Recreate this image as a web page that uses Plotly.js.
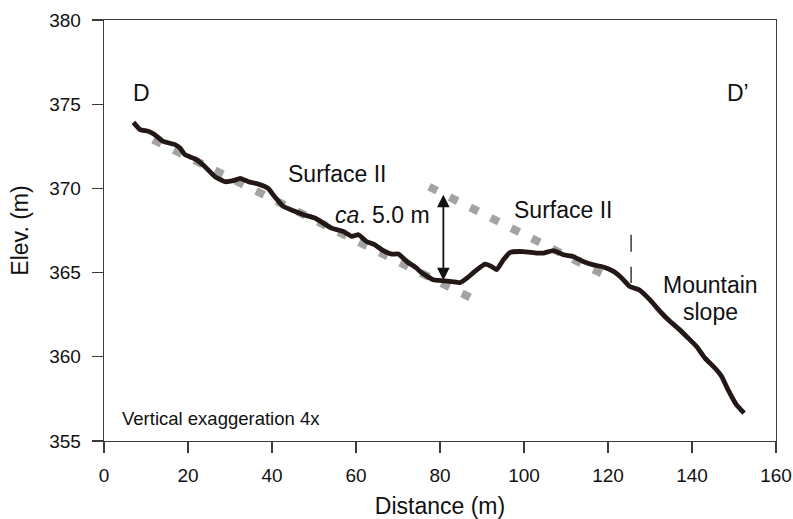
<!DOCTYPE html>
<html>
<head>
<meta charset="utf-8">
<script src="https://cdn.plot.ly/plotly-3.0.1.min.js"></script>
<style>html,body{margin:0;padding:0;background:#fff}#chart{width:793px;height:519px}</style>
</head>
<body>
<div id="chart"></div>
<script>
// Profile D–D'
var profileX = [7.0, 8.6, 10.5, 12.1, 14.1, 16.9, 18.1, 19.3, 21.7, 24.0, 26.4, 28.8, 30.8, 32.4, 34.4, 36.7, 39.1, 40.5, 42.7, 45.1, 47.5, 50.2, 52.2, 54.2, 57.0, 59.0, 60.6, 62.5, 64.5, 66.5, 68.5, 70.1, 72.1, 74.4, 75.6, 78.4, 80.8, 82.8, 84.8, 86.4, 88.3, 90.7, 92.3, 93.5, 95.1, 96.7, 99.8, 103.0, 104.6, 107.0, 109.4, 111.7, 114.1, 116.5, 118.9, 121.3, 123.3, 125.2, 127.4, 130.0, 132.4, 134.8, 137.1, 139.1, 141.1, 143.1, 145.5, 147.1, 148.6, 150.6, 152.4];
var profileY = [373.92, 373.49, 373.39, 373.19, 372.79, 372.6, 372.4, 372.0, 371.75, 371.3, 370.7, 370.4, 370.46, 370.6, 370.4, 370.26, 370.0, 369.55, 368.93, 368.67, 368.44, 368.24, 367.94, 367.64, 367.44, 367.15, 367.25, 366.85, 366.65, 366.3, 366.1, 366.1, 365.66, 365.27, 365.0, 364.57, 364.51, 364.47, 364.41, 364.67, 365.07, 365.5, 365.36, 365.17, 365.76, 366.2, 366.25, 366.16, 366.16, 366.31, 366.06, 365.96, 365.66, 365.46, 365.33, 365.07, 364.67, 364.17, 363.98, 363.38, 362.69, 362.09, 361.6, 361.11, 360.61, 359.92, 359.32, 358.82, 358.03, 357.14, 356.65];

// Surface II reconstructions (lower and upper)
var surfLowX = [11.7, 87.4];
var surfLowY = [372.9, 363.5];
var surfHighX = [77.4, 121.0];
var surfHighY = [370.1, 364.63];

// Boundary marker between Surface II and mountain slope
var boundaryX = [125.5, 125.5];
var boundaryY = [367.25, 364.38];

// Height difference arrow
var arrowX = 80.8;
var arrowTop = 369.63;
var arrowBottom = 364.45;

var xTicks = [0, 20, 40, 60, 80, 100, 120, 140, 160];
var yTicks = [355, 360, 365, 370, 375, 380];

var FONT = 'Liberation Sans, Arial, Helvetica, sans-serif';
var INK = '#231815';
var AXIS = '#3e3a39';

var traces = [
  {x: surfLowX, y: surfLowY, mode: 'lines', line: {color: '#a3a3a3', width: 8, dash: '9px,14px'}, hoverinfo: 'skip'},
  {x: surfHighX, y: surfHighY, mode: 'lines', line: {color: '#a3a3a3', width: 8, dash: '9px,14px'}, hoverinfo: 'skip'},
  {x: profileX, y: profileY, mode: 'lines', line: {color: INK, width: 4.8, shape: 'spline', smoothing: 0.4}, hoverinfo: 'skip'},
  {x: boundaryX, y: boundaryY, mode: 'lines', line: {color: AXIS, width: 1.5, dash: '17px,15px'}, hoverinfo: 'skip'}
];

function txt(t, x, y, size, xanchor) {
  return {text: t, x: x, y: y, xref: 'x', yref: 'y', showarrow: false,
          xanchor: xanchor || 'center', yanchor: 'middle',
          font: {family: FONT, size: size, color: '#111'}};
}

var layout = {
  width: 793, height: 519,
  margin: {l: 104, r: 17, t: 20, b: 78},
  paper_bgcolor: '#fff', plot_bgcolor: '#fff',
  showlegend: false,
  font: {family: FONT, color: '#111'},
  xaxis: {
    range: [0, 160], tickvals: xTicks, ticks: 'outside', ticklen: 11, tickwidth: 1.3, tickcolor: AXIS,
    showline: true, linecolor: AXIS, linewidth: 1.3, mirror: true, showgrid: false, zeroline: false,
    tickfont: {family: FONT, size: 19, color: '#111'}, ticklabelstandoff: 6,
    title: {text: 'Distance (m)', font: {family: FONT, size: 23, color: '#111'}, standoff: 12}
  },
  yaxis: {
    range: [355, 380], tickvals: yTicks, ticks: 'outside', ticklen: 11, tickwidth: 1.3, tickcolor: AXIS,
    showline: true, linecolor: AXIS, linewidth: 1.3, mirror: true, showgrid: false, zeroline: false,
    tickfont: {family: FONT, size: 19, color: '#111'}, ticklabelstandoff: 7,
    title: {text: 'Elev. (m)', font: {family: FONT, size: 23, color: '#111'}, standoff: 14}
  },
  annotations: [
    txt('D', 8.98, 375.67, 23),
    txt('D\u2019', 150.95, 375.69, 23),
    txt('Surface II', 55.5, 370.83, 23),
    txt('<i>ca</i>. 5.0 m', 66.4, 368.44, 23),
    txt('Surface II', 109.2, 368.73, 23),
    txt('Mountain', 144.3, 364.27, 23),
    txt('slope', 144.5, 362.69, 23),
    txt('Vertical exaggeration 4x', 3.8, 356.35, 18.5, 'left'),
    {x: arrowX, y: arrowTop, ax: arrowX, ay: arrowBottom, xref: 'x', yref: 'y', axref: 'x', ayref: 'y',
     text: '', showarrow: true, arrowhead: 2, startarrowhead: 2, arrowside: 'end+start',
     arrowsize: 1.4, startarrowsize: 1.4, arrowwidth: 1.8, arrowcolor: '#111'}
  ]
};

Plotly.newPlot('chart', traces, layout, {displayModeBar: false, staticPlot: true});
</script>
</body>
</html>
